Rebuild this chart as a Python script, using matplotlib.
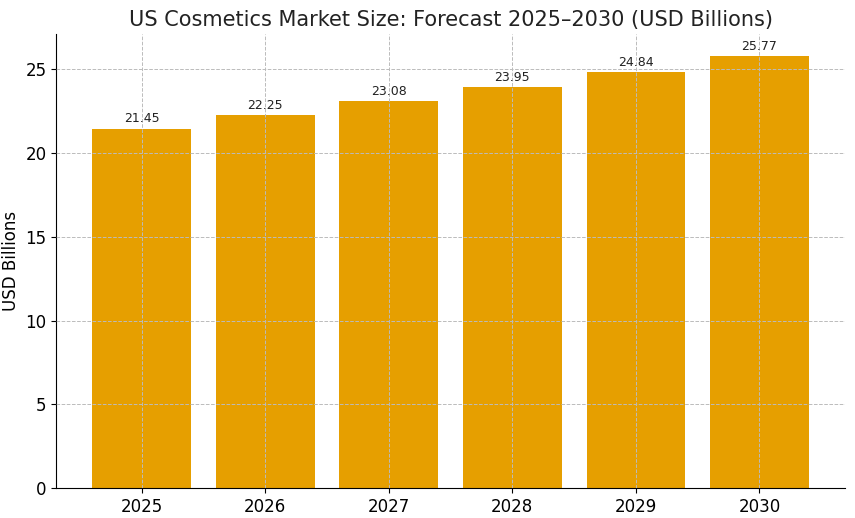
import matplotlib.pyplot as plt

years = ['2025', '2026', '2027', '2028', '2029', '2030']
values = [21.45, 22.25, 23.08, 23.95, 24.84, 25.77]

fig, ax = plt.subplots(figsize=(8.55, 5.18), dpi=100)
fig.subplots_adjust(left=0.066, right=0.988, top=0.934, bottom=0.058)

bars = ax.bar(years, values, color='#E69F00', width=0.8, zorder=1)
for b, v in zip(bars, values):
    ax.text(b.get_x() + b.get_width() / 2, v + 0.2, f'{v:.2f}',
            ha='center', va='bottom', fontsize=9, color='#222222')

ax.set_ylim(0, 27.1)
ax.set_title('US Cosmetics Market Size: Forecast 2025\u20132030 (USD Billions)',
             fontsize=15, color='#222222')
ax.set_ylabel('USD Billions', fontsize=12)
ax.tick_params(labelsize=12)
ax.grid(True, linestyle='--', color='#bbbbbb', linewidth=0.7, zorder=2)
ax.set_axisbelow(False)
for s in ['top', 'right']:
    ax.spines[s].set_visible(False)

plt.savefig('out.png')
